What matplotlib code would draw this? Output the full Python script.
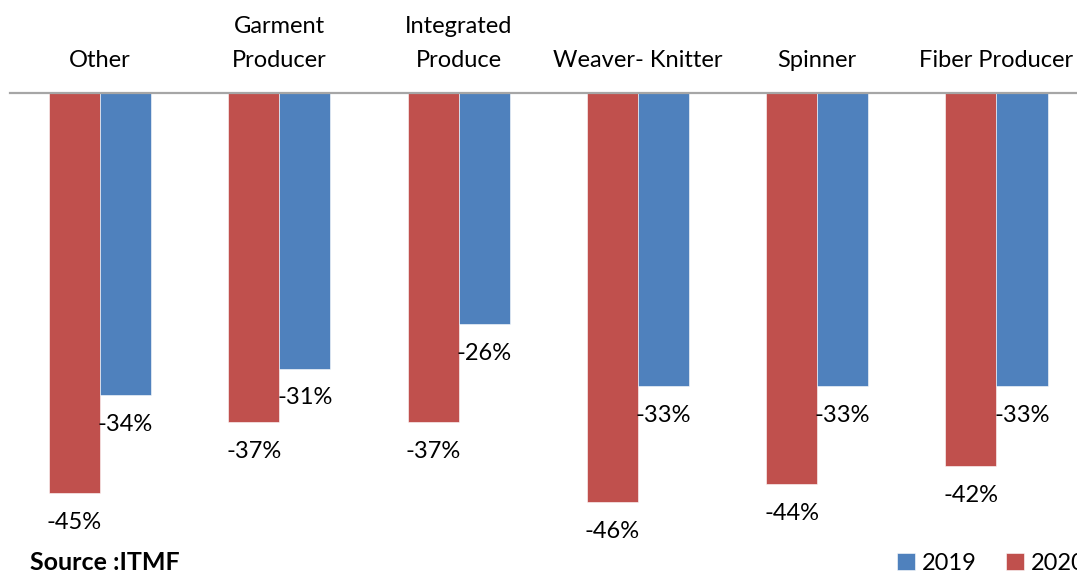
import matplotlib.pyplot as plt
import numpy as np

plt.rcParams['font.family'] = ['Lato', 'DejaVu Sans']

categories = ["Other", "Garment\nProducer", "Integrated\nProduce", "Weaver- Knitter", "Spinner", "Fiber Producer"]
vals_2020 = [-45, -37, -37, -46, -44, -42]
vals_2019 = [-34, -31, -26, -33, -33, -33]

RED = "#C0504D"
BLUE = "#4F81BD"

fig = plt.figure(figsize=(10.77, 5.73), dpi=100)
ax = fig.add_axes([0, 0, 1, 1])

x = np.arange(len(categories))
w = 0.2845
bars20 = ax.bar(x - w / 2, vals_2020, w, color=RED, edgecolor="white", linewidth=0.4, label="2020", zorder=2)
bars19 = ax.bar(x + w / 2, vals_2019, w, color=BLUE, edgecolor="white", linewidth=0.4, label="2019", zorder=2)

ax.set_xlim(-0.5577, 5.449)
ax.set_ylim(-54.0, 10.46)
ax.axis("off")

# zero line
ax.axhline(0, xmin=10 / 1077, xmax=1, color="#A6A6A6", linewidth=1.6, zorder=3)

# category labels above the axis
for i, c in enumerate(categories):
    ax.text(i, 2.45, c, ha="center", va="bottom", fontsize=17, linespacing=1.8)

# data labels
for i, (a, b) in enumerate(zip(vals_2020, vals_2019)):
    ax.annotate(f"{a}%", (i - w / 2, a), xytext=(0, -21), textcoords="offset points",
                ha="center", va="center", fontsize=17)
    ax.annotate(f"{b}%", (i + w / 2, b), xytext=(0, -21), textcoords="offset points",
                ha="center", va="center", fontsize=17)

fig.text(30 / 1077, 1 - 562 / 573, "Source :ITMF", fontsize=18, fontweight="bold",
         ha="left", va="center")

fig.legend(handles=[bars19, bars20], labels=["2019", "2020"], loc="center left",
           bbox_to_anchor=(897 / 1077, 1 - 563 / 573), ncol=2, frameon=False,
           fontsize=17, handlelength=0.75, handleheight=0.75, handletextpad=0.3,
           columnspacing=1.25, borderpad=0, borderaxespad=0)

fig.savefig("out.png", dpi=100)
